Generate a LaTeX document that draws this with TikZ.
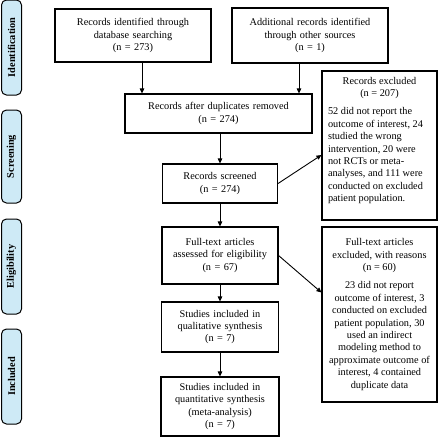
\documentclass[tikz,border=0pt]{standalone}
\usepackage{fontspec}
\setmainfont{Liberation Serif}
\usetikzlibrary{arrows.meta,calc}
\definecolor{phasefill}{RGB}{206,234,246}
\begin{document}
\begin{tikzpicture}[x=1pt,y=-1pt,
  font=\fontsize{10.3}{12.4}\selectfont,
  box/.style={draw=black, line width=1.1pt, align=center, inner sep=0pt},
  phase/.style={draw=black, fill=phasefill, rounded corners=5pt, line width=1pt,
    font=\bfseries\fontsize{10.3}{12}\selectfont, inner sep=0pt,
    minimum height=20pt, rotate=90},
  arr/.style={-{Triangle[length=5pt,width=4.5pt]}, line width=0.9pt}]
\useasboundingbox (0,0) rectangle (440,440);

% phase labels
\node[phase, minimum width=95pt] (p1) at (11.5,47.5) {Identification};
\node[phase, minimum width=93pt] (p2) at (11.5,156.5) {Screening};
\node[phase, minimum width=95pt] (p3) at (11.5,266.5) {Eligibility};
\node[phase, minimum width=95pt] (p4) at (11.5,376.5) {Included};

% main boxes
\node[box, minimum width=156pt, minimum height=53pt, text width=150pt] (b1) at (133,35.5)
  {Records identified through\\database searching\\(n = 273)};
\node[box, minimum width=156pt, minimum height=55pt, text width=150pt] (b2) at (310,35.5)
  {Additional records identified\\through other sources\\(n = 1)};
\node[box, minimum width=187pt, minimum height=39pt, text width=180pt] (b3) at (218.5,113.5)
  {Records after duplicates removed\\(n = 274)};
\node[box, minimum width=115pt, minimum height=39pt, text width=110pt] (b4) at (220,183.5)
  {Records screened\\(n = 274)};
\node[box, minimum width=116pt, minimum height=57pt, text width=112pt] (b5) at (220,255.5)
  {Full-text articles\\assessed for eligibility\\(n = 67)};
\node[box, minimum width=117pt, minimum height=50pt, text width=112pt] (b6) at (220,327)
  {Studies included in\\qualitative synthesis\\(n = 7)};
\node[box, minimum width=118pt, minimum height=59pt, text width=112pt] (b7) at (220,406.5)
  {Studies included in\\quantitative synthesis\\(meta-analysis)\\(n = 7)};

% exclusion boxes
\node[box, minimum width=115pt, minimum height=149pt] (e1) at (379.5,145.5)
  {\parbox[c][137pt][t]{103pt}{\centering Records excluded\\(n = 207)\par\vspace{6pt}
   \raggedright 52 did not report the\\outcome of interest, 24\\studied the wrong\\intervention, 20 were\\not RCTs or meta-\\analyses, and 111 were\\conducted on excluded\\patient population.}};
\node[box, minimum width=115pt, minimum height=175pt] (e2) at (379.5,314.5)
  {\parbox[c][152pt][t]{110pt}{\centering Full-text articles\\excluded, with reasons\\(n = 60)\par\vspace{6pt}
   23 did not report\\outcome of interest, 3\\conducted on excluded\\patient population, 30\\used an indirect\\modeling method to\\approximate outcome of\\interest, 4 contained\\duplicate data}};

% connectors
\draw[arr] ([xshift=9pt]b1.south) -- ([xshift=9pt]b1.south |- b3.north);
\draw[arr] ([xshift=-11pt]b2.south) -- ([xshift=-11pt]b2.south |- b3.north);
\draw[arr] (b4.north |- b3.south) -- (b4.north);
\draw[arr] (b4.south) -- (b5.north);
\draw[arr] (b5.south) -- (b6.north);
\draw[arr] (b6.south) -- (b7.north);
\draw[arr] (b4.east) -- ([yshift=-9.5pt]e1.west);
\draw[arr] (b5.east) -- ([yshift=22pt]e2.west);
\end{tikzpicture}
\end{document}
